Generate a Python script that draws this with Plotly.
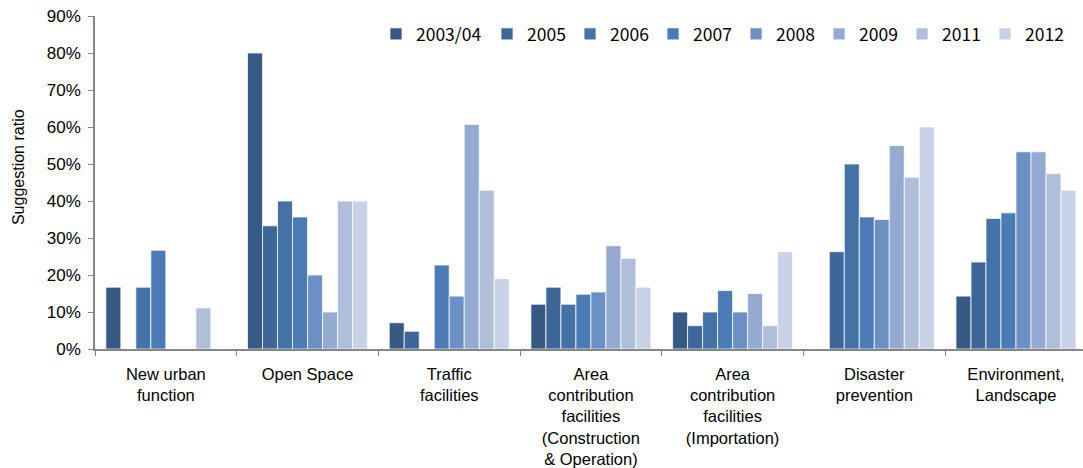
import plotly.graph_objects as go

categories = [
    "New urban<br>function",
    "Open Space",
    "Traffic<br>facilities",
    "Area<br>contribution<br>facilities<br>(Construction<br>& Operation)",
    "Area<br>contribution<br>facilities<br>(Importation)",
    "Disaster<br>prevention",
    "Environment,<br>Landscape",
]

years = ["2003/04", "2005", "2006", "2007", "2008", "2009", "2011", "2012"]

v2003_04 = [0.167, 0.800, 0.071, 0.121, 0.100, None, 0.143]
v2005 = [None, 0.333, 0.048, 0.167, 0.063, 0.263, 0.235]
v2006 = [0.167, 0.400, None, 0.121, 0.100, 0.500, 0.353]
v2007 = [0.267, 0.357, 0.227, 0.148, 0.158, 0.357, 0.368]
v2008 = [None, 0.200, 0.143, 0.154, 0.100, 0.350, 0.533]
v2009 = [None, 0.100, 0.607, 0.279, 0.150, 0.550, 0.533]
v2011 = [0.111, 0.400, 0.429, 0.245, 0.063, 0.464, 0.474]
v2012 = [None, 0.400, 0.190, 0.167, 0.263, 0.600, 0.429]

series = [v2003_04, v2005, v2006, v2007, v2008, v2009, v2011, v2012]
colors = ["#375A84", "#3E6699", "#4472A6", "#4A7BB5",
          "#6B90C3", "#95AAD1", "#AFBFDA", "#C8D1E5"]

y_ticks = [0, 0.1, 0.2, 0.3, 0.4, 0.5, 0.6, 0.7, 0.8, 0.9]
y_tick_labels = ["0%", "10%", "20%", "30%", "40%", "50%", "60%", "70%", "80%", "90%"]
y_title = "Suggestion ratio"

fig = go.Figure()
for i, (name, vals, col) in enumerate(zip(years, series, colors)):
    fig.add_trace(go.Bar(
        name=name, x=categories, y=vals,
        legend="legend" if i == 0 else "legend2",
        marker=dict(color=col, line=dict(color="rgba(255,255,255,0.75)", width=1)),
    ))

legend_font = dict(family="Noto Sans CJK JP", size=17.5, color="#000")
fig.update_layout(
    width=1083, height=468,
    margin=dict(l=95, r=0, t=16, b=119),
    paper_bgcolor="white", plot_bgcolor="white",
    barmode="group", bargap=0.153, bargroupgap=0,
    font=dict(family="Liberation Sans, Arial, sans-serif", color="#000000"),
    legend=dict(
        orientation="h", x=0.2844, y=1.0, xanchor="left", yanchor="top",
        font=legend_font, bgcolor="rgba(0,0,0,0)", itemclick=False,
    ),
    legend2=dict(
        orientation="h", x=0.3968, y=1.0, xanchor="left", yanchor="top",
        font=legend_font, entrywidth=38, bgcolor="rgba(0,0,0,0)", itemclick=False,
    ),
    showlegend=True,
    annotations=[dict(
        text=y_title, textangle=-90, xref="paper", yref="paper",
        x=-0.0779, y=0.5465, xanchor="center", yanchor="middle",
        showarrow=False, font=dict(size=16),
    )],
)

fig.update_xaxes(
    categoryorder="array", categoryarray=categories,
    range=[-0.5, 6.473],
    showline=True, linecolor="#868686", linewidth=1.5,
    ticks="outside", tickson="boundaries", ticklen=5, tickcolor="#868686",
    tickfont=dict(size=16.5, family="Liberation Sans, Arial, sans-serif"),
    ticklabelstandoff=9,
    showgrid=False, zeroline=False,
)
fig.update_yaxes(
    range=[0, 0.9], tickvals=y_ticks, ticktext=y_tick_labels,
    showline=True, linecolor="#868686", linewidth=1.5,
    ticks="outside", ticklen=5, tickcolor="#868686",
    tickfont=dict(size=17, family="Liberation Sans, Arial, sans-serif"),
    ticklabelstandoff=4,
    showgrid=False, zeroline=False,
)

fig.write_html("out.html")
